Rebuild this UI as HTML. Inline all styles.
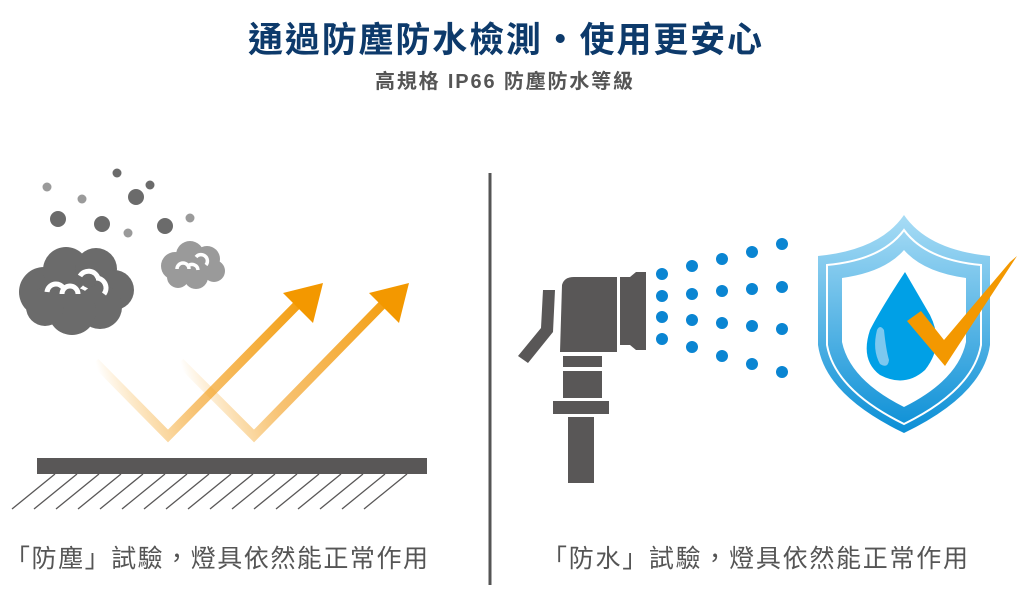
<!DOCTYPE html>
<html><head><meta charset="utf-8"><style>
html,body{margin:0;padding:0;background:#fff;}
svg{display:block;}
</style></head><body>
<svg width="1035" height="596" viewBox="0 0 1035 596" xmlns="http://www.w3.org/2000/svg">
<defs>
<linearGradient id="a1" gradientUnits="userSpaceOnUse" x1="95" y1="362" x2="320" y2="290">
<stop offset="0" stop-color="#f39800" stop-opacity="0"/><stop offset="0.35" stop-color="#f5b350" stop-opacity="0.8"/><stop offset="1" stop-color="#f39800"/></linearGradient>
<linearGradient id="a2" gradientUnits="userSpaceOnUse" x1="180" y1="362" x2="405" y2="290">
<stop offset="0" stop-color="#f39800" stop-opacity="0"/><stop offset="0.35" stop-color="#f5b350" stop-opacity="0.8"/><stop offset="1" stop-color="#f39800"/></linearGradient>
<linearGradient id="sh" x1="0" y1="0" x2="0" y2="1">
<stop offset="0" stop-color="#a8dcf5"/><stop offset="1" stop-color="#0b8fd6"/></linearGradient>
</defs>
<text x="505" y="52" text-anchor="middle" font-family="Liberation Sans, Noto Sans CJK TC, sans-serif" font-weight="bold" font-size="35" fill="#0d3a6b" textLength="514" lengthAdjust="spacing">通過防塵防水檢測・使用更安心</text>
<text x="504" y="88" text-anchor="middle" font-family="Liberation Sans, Noto Sans CJK TC, sans-serif" font-weight="bold" font-size="20" fill="#555" textLength="258" lengthAdjust="spacing">高規格 IP66 防塵防水等級</text>
<line x1="490" y1="173" x2="490" y2="585" stroke="#555" stroke-width="3"/>
<g fill="#6b6b6b">
<circle cx="47" cy="187" r="4.5" fill="#9a9a9a"/><circle cx="82" cy="199" r="4.5" fill="#9a9a9a"/>
<circle cx="117" cy="173" r="4.5"/><circle cx="136" cy="197" r="8"/><circle cx="150" cy="185" r="4.5"/>
<circle cx="58" cy="219" r="8"/><circle cx="102" cy="224" r="8"/><circle cx="128" cy="233" r="4.5" fill="#9a9a9a"/>
<circle cx="165" cy="226" r="8"/><circle cx="190" cy="218" r="4.5" fill="#9a9a9a"/>
</g>
<g fill="#6b6b6b">
<circle cx="44" cy="292" r="25"/><circle cx="66" cy="270" r="23"/><circle cx="96" cy="269" r="21"/>
<circle cx="114" cy="290" r="20"/><circle cx="100" cy="307" r="22"/><circle cx="72" cy="311" r="24"/><circle cx="45" cy="307" r="19"/>
</g>
<g fill="none" stroke="#fff" stroke-width="5">
<path d="M47 292 a9 9 0 0 1 17 -3"/><path d="M62 294 a8 8 0 0 1 16 0"/><path d="M80 276 a10 10 0 0 1 18 2"/><path d="M96 278 a10 10 0 0 1 8 16"/>
</g>
<g fill="#9a9a9a">
<circle cx="175" cy="266" r="14"/><circle cx="190" cy="255" r="14"/><circle cx="207" cy="259" r="13"/><circle cx="214" cy="271" r="11"/><circle cx="196" cy="277" r="12"/><circle cx="178" cy="277" r="11"/>
</g>
<g fill="none" stroke="#fff" stroke-width="3.5">
<path d="M177 269 a6 6 0 0 1 12 0"/><path d="M188 266 a6 6 0 0 1 10 4"/><path d="M196 257 a6 6 0 0 1 10 8"/>
</g>
<polyline points="95,362 168,436 300,302" fill="none" stroke="url(#a1)" stroke-width="9"/>
<polygon points="323,283 313,323 283,293" fill="#f39800"/>
<polyline points="180,362 254,436 385,302" fill="none" stroke="url(#a2)" stroke-width="9"/>
<polygon points="409,283 399,323 369,293" fill="#f39800"/>
<rect x="37" y="458" width="390" height="16" fill="#595757"/>
<g stroke="#595757" stroke-width="1.3">
<line x1="55" y1="474" x2="12" y2="509"/><line x1="77" y1="474" x2="34" y2="509"/><line x1="99" y1="474" x2="56" y2="509"/><line x1="121" y1="474" x2="78" y2="509"/><line x1="143" y1="474" x2="100" y2="509"/><line x1="165" y1="474" x2="122" y2="509"/><line x1="187" y1="474" x2="144" y2="509"/><line x1="209" y1="474" x2="166" y2="509"/><line x1="231" y1="474" x2="188" y2="509"/><line x1="253" y1="474" x2="210" y2="509"/><line x1="275" y1="474" x2="232" y2="509"/><line x1="297" y1="474" x2="254" y2="509"/><line x1="319" y1="474" x2="276" y2="509"/><line x1="341" y1="474" x2="298" y2="509"/><line x1="363" y1="474" x2="320" y2="509"/><line x1="385" y1="474" x2="342" y2="509"/><line x1="407" y1="474" x2="364" y2="509"/>
</g>
<g fill="#595757">
<polygon points="543,290 555,290 553,332 528,363 518,356 541,328"/>
<path d="M562 285 q2 -8 12 -8 h43 v75 h-57 z"/>
<polygon points="620,277 630,277 636,272 646,272 646,350 636,350 630,345 620,345"/>
<rect x="563" y="356" width="39" height="11"/>
<rect x="563" y="371" width="39" height="27"/>
<rect x="553" y="401" width="56" height="13"/>
<rect x="568" y="417" width="26" height="66"/>
</g>
<g fill="#0a85d2">
<circle cx="662" cy="274" r="6"/><circle cx="662" cy="296" r="6"/><circle cx="662" cy="317" r="6"/><circle cx="662" cy="339" r="6"/>
<circle cx="692" cy="266" r="6"/><circle cx="692" cy="294" r="6"/><circle cx="692" cy="320" r="6"/><circle cx="692" cy="347" r="6"/>
<circle cx="722" cy="259" r="6"/><circle cx="722" cy="291" r="6"/><circle cx="722" cy="323" r="6"/><circle cx="722" cy="356" r="6"/>
<circle cx="752" cy="252" r="6"/><circle cx="752" cy="289" r="6"/><circle cx="752" cy="326" r="6"/><circle cx="752" cy="364" r="6"/>
<circle cx="782" cy="244" r="6"/><circle cx="782" cy="287" r="6"/><circle cx="782" cy="329" r="6"/><circle cx="782" cy="372" r="6"/>
</g>
<path d="M904 215 Q880 250 818 256 L818 345 Q825 395 904 433 Q983 395 990 345 L990 256 Q928 250 904 215 Z" fill="url(#sh)"/>
<path d="M904 230 Q882 260 827 265 L827 345 Q835 390 904 424 Q973 390 981 345 L981 265 Q926 260 904 230 Z" fill="none" stroke="#fff" stroke-width="2"/>
<path d="M904 250 Q885 272 842 278 L842 342 Q850 380 904 407 Q958 380 966 342 L966 278 Q923 272 904 250 Z" fill="#fff"/>
<path d="M905 272 Q880 310 870 330 Q860 360 880 375 Q905 388 925 370 Q945 345 930 315 Z" fill="#00a0e6"/>
<path d="M877 330 q-5 20 3 34 q8 5 9 -4 q-3 -10 -5 -30 q-4 -6 -7 0z" fill="#7cc8ef"/>
<polygon points="1017,256 945,366 907,321 921,311 944,340 1010,262" fill="#f39800"/>
<text x="5" y="567" font-family="Liberation Sans, Noto Sans CJK TC, sans-serif" font-size="25" fill="#555" textLength="423" lengthAdjust="spacing">「防塵」試驗，燈具依然能正常作用</text>
<text x="542" y="567" font-family="Liberation Sans, Noto Sans CJK TC, sans-serif" font-size="25" fill="#555" textLength="426" lengthAdjust="spacing">「防水」試驗，燈具依然能正常作用</text>
</svg>
</body></html>
